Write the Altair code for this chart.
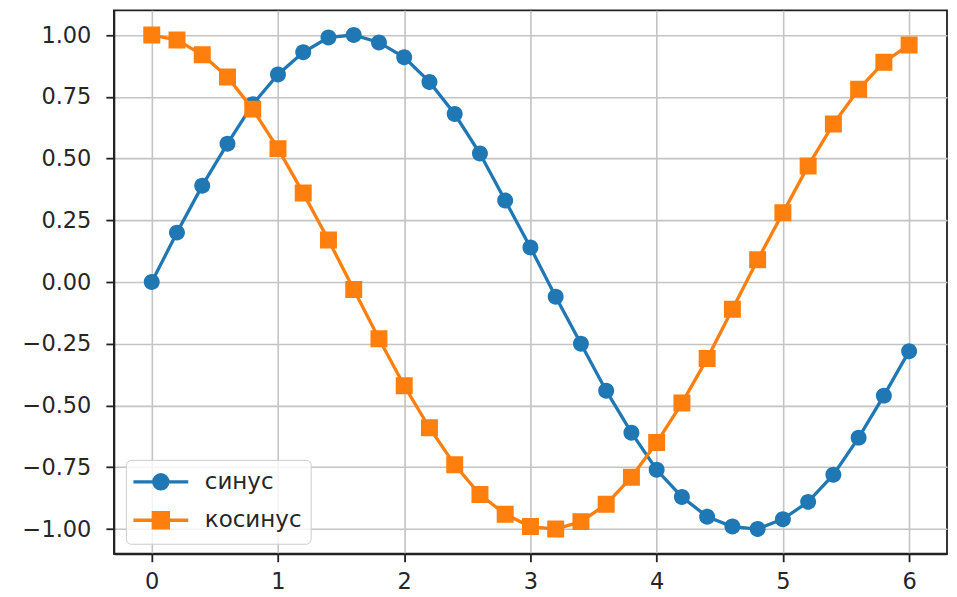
import altair as alt
import pandas as pd

x_vals = [0.0, 0.2, 0.4, 0.6, 0.8, 1.0, 1.2, 1.4, 1.6, 1.8, 2.0, 2.2, 2.4, 2.6, 2.8, 3.0,
          3.2, 3.4, 3.6, 3.8, 4.0, 4.2, 4.4, 4.6, 4.8, 5.0, 5.2, 5.4, 5.6, 5.8, 6.0]
sin_vals = [0.00, 0.20, 0.39, 0.56, 0.72, 0.84, 0.93, 0.99, 1.00, 0.97, 0.91, 0.81, 0.68,
            0.52, 0.33, 0.14, -0.06, -0.25, -0.44, -0.61, -0.76, -0.87, -0.95, -0.99,
            -1.00, -0.96, -0.89, -0.78, -0.63, -0.46, -0.28]
cos_vals = [1.00, 0.98, 0.92, 0.83, 0.70, 0.54, 0.36, 0.17, -0.03, -0.23, -0.42, -0.59,
            -0.74, -0.86, -0.94, -0.99, -1.00, -0.97, -0.90, -0.79, -0.65, -0.49, -0.31,
            -0.11, 0.09, 0.28, 0.47, 0.64, 0.78, 0.89, 0.96]
series_names = ["синус", "косинус"]
series_colors = ["#1f77b4", "#ff7f0e"]
x_ticks = [0, 1, 2, 3, 4, 5, 6]
y_ticks = [-1.0, -0.75, -0.5, -0.25, 0.0, 0.25, 0.5, 0.75, 1.0]

rows = []
for xv, sv, cv in zip(x_vals, sin_vals, cos_vals):
    rows.append({"x": xv, "y": sv, "series": series_names[0]})
    rows.append({"x": xv, "y": cv, "series": series_names[1]})
df = pd.DataFrame(rows)

# marker shapes with a horizontal stroke for the legend (stroke has no area, so
# on the filled data markers only the circle / square shows)
circle_path = ("M -2.44 0 L 2.44 0 M -0.63 0 A 0.63 0.63 0 1 0 0.63 0 "
               "A 0.63 0.63 0 1 0 -0.63 0 Z")
square_path = "M -2.44 0 L 2.44 0 M -0.67 -0.67 L 0.67 -0.67 L 0.67 0.67 L -0.67 0.67 Z"

FONT = "DejaVu Sans"
TXT = "#262626"
FS = 22.5

xs = alt.X("x:Q", scale=alt.Scale(domain=[-0.3, 6.3], nice=False, zero=False),
           axis=alt.Axis(values=x_ticks, format="d", title=None, labelPadding=9))
ys = alt.Y("y:Q", scale=alt.Scale(domain=[-1.1, 1.1], nice=False, zero=False),
           axis=alt.Axis(values=y_ticks, format=".2f", title=None, labelPadding=15))
cscale = alt.Scale(domain=series_names, range=series_colors)

leg = alt.Legend(
    title=None, orient="none", legendX=12, legendY=450,
    fillColor="rgba(255,255,255,0.8)", strokeColor="#cccccc",
    cornerRadius=5, padding=9, rowPadding=9.5,
    symbolSize=506, symbolOffset=13, labelOffset=31,
    symbolOpacity=1, symbolStrokeWidth=3.3,
    labelFont=FONT, labelFontSize=23, labelColor=TXT,
    labelExpr="datum.label + '\u2002'",
)

lines = []
points = []
for i, name in enumerate(series_names):
    base = alt.Chart(df).transform_filter(alt.datum.series == name)
    lines.append(base.mark_line(strokeWidth=3.3, color=series_colors[i]).encode(x=xs, y=ys))
    points.append(base.mark_point(filled=True, opacity=1, strokeWidth=0, size=643).encode(
        x=xs, y=ys,
        color=alt.Color("series:N", scale=cscale, legend=leg),
        stroke=alt.Stroke("series:N", scale=cscale, legend=leg),
        shape=alt.Shape("series:N",
                        scale=alt.Scale(domain=series_names, range=[circle_path, square_path]),
                        legend=leg),
    ))

chart = alt.layer(lines[0], points[0], lines[1], points[1]).properties(
    width=834, height=544,
    autosize=alt.AutoSizeParams(type="none"),
    padding={"left": 106, "top": 2, "right": 2, "bottom": 40},
).configure_view(
    stroke="#222222", strokeWidth=1.8
).configure_axis(
    labelFont=FONT, labelFontSize=FS, labelColor=TXT,
    grid=True, gridColor="#c4c4c4", gridWidth=1.6,
    domainColor="#222222", domainWidth=1.8,
    tickColor="#222222", tickWidth=1.8, tickSize=8,
)

chart.save("out.html", embed_options={"renderer": "svg", "actions": False})
